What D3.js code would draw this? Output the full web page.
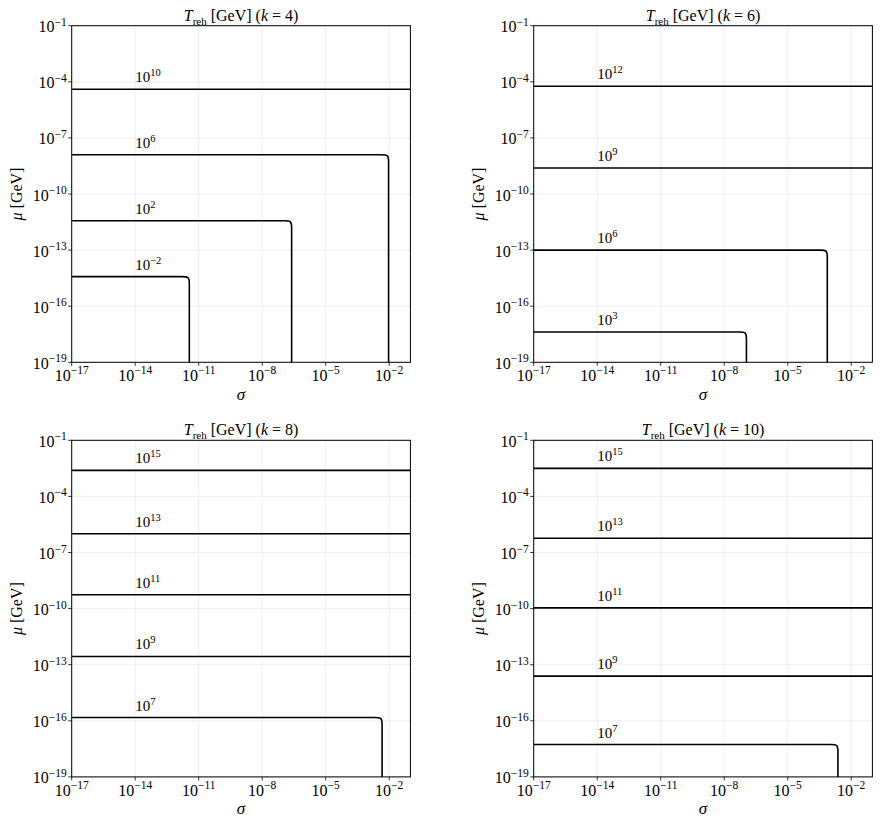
<!DOCTYPE html>
<html><head><meta charset="utf-8">
<script src="https://cdn.jsdelivr.net/npm/d3@7"></script>
<style>
body{margin:0;background:#fff}
svg{display:block}
text{font-family:"Liberation Serif","DejaVu Serif",serif;fill:#000}
</style>
</head><body>
<svg id="chart" width="880" height="822"></svg>
<script>
// ---------- data ----------
const kValues = [4, 6, 8, 10];
const xTickExps = [-17, -14, -11, -8, -5, -2];
const yTickExps = [-1, -4, -7, -10, -13, -16, -19];
const xDomain = [1e-17, 1e-1];
const yDomain = [1e-19, 1e-1];

// k = 4
const k4LabelExps = [10, 6, 2, -2];
const k4Mu = [4.0e-5, 1.26e-8, 3.7e-12, 3.8e-15];
const k4Sigma = [null, 9.3e-3, 2.45e-7, 3.6e-12];
// k = 6
const k6LabelExps = [12, 9, 6, 3];
const k6Mu = [5.75e-5, 2.45e-9, 1.0e-13, 4.2e-18];
const k6Sigma = [null, null, 7.4e-4, 1.12e-7];
// k = 8
const k8LabelExps = [15, 13, 11, 9, 7];
const k8Mu = [2.45e-3, 1.0e-6, 5.5e-10, 2.75e-13, 1.5e-16];
const k8Sigma = [null, null, null, null, 4.6e-3];
// k = 10
const k10LabelExps = [15, 13, 11, 9, 7];
const k10Mu = [3.16e-3, 5.75e-7, 1.1e-10, 2.45e-14, 5.4e-18];
const k10Sigma = [null, null, null, null, 2.35e-3];

const panelData = [
  {k: kValues[0], exps: k4LabelExps, mu: k4Mu, sigma: k4Sigma},
  {k: kValues[1], exps: k6LabelExps, mu: k6Mu, sigma: k6Sigma},
  {k: kValues[2], exps: k8LabelExps, mu: k8Mu, sigma: k8Sigma},
  {k: kValues[3], exps: k10LabelExps, mu: k10Mu, sigma: k10Sigma}
];

// ---------- layout ----------
const panelW = 338.7, panelH = 336.6;
const panelPos = [[71.7, 25.7], [533.7, 25.7], [71.7, 440.3], [533.7, 440.3]];

const svg = d3.select("#chart");
const minus = "\u2212";
function fmtExp(e){ return (e < 0 ? minus : "") + Math.abs(e); }

panelData.forEach((p, i) => {
  const [px, py] = panelPos[i];
  const g = svg.append("g").attr("transform", `translate(${px},${py})`);
  const x = d3.scaleLog().domain(xDomain).range([0, panelW]);
  const y = d3.scaleLog().domain(yDomain).range([panelH, 0]);

  const cid = "clip" + i;
  g.append("clipPath").attr("id", cid).append("rect")
    .attr("width", panelW).attr("height", panelH);

  // grid
  g.append("g").selectAll("line").data(xTickExps).join("line")
    .attr("x1", d => x(Math.pow(10, d))).attr("x2", d => x(Math.pow(10, d)))
    .attr("y1", 0).attr("y2", panelH)
    .attr("stroke", "#ebebeb").attr("stroke-width", 0.8);
  g.append("g").selectAll("line").data(yTickExps).join("line")
    .attr("y1", d => y(Math.pow(10, d))).attr("y2", d => y(Math.pow(10, d)))
    .attr("x1", 0).attr("x2", panelW)
    .attr("stroke", "#ebebeb").attr("stroke-width", 0.8);

  // contours
  const line = d3.line().x(d => x(d[0])).y(d => y(d[1])).curve(d3.curveBasis);
  const f = Math.pow(10, 0.35);
  const curves = p.mu.map((m, j) => {
    const s = p.sigma[j];
    if (s == null) return [[xDomain[0], m], [xDomain[1], m]];
    return [[xDomain[0], m], [s / f / f, m], [s / f, m], [s, m], [s, m / f], [s, m / f / f], [s, yDomain[0]]];
  });
  g.append("g").attr("clip-path", `url(#${cid})`)
    .selectAll("path").data(curves).join("path")
    .attr("d", line).attr("fill", "none")
    .attr("stroke", "#000").attr("stroke-width", 1.6);

  // contour labels
  const lab = g.append("g").selectAll("text").data(p.mu).join("text")
    .attr("x", x(1e-14)).attr("y", d => y(d) - 7)
    .attr("font-size", 15);
  lab.append("tspan").text("10");
  lab.append("tspan").attr("dy", -6).attr("font-size", 10.5)
    .text((d, j) => fmtExp(p.exps[j]));

  // spines
  g.append("rect").attr("width", panelW).attr("height", panelH)
    .attr("fill", "none").attr("stroke", "#000").attr("stroke-width", 1);

  // x ticks
  const xt = g.append("g").selectAll("g").data(xTickExps).join("g")
    .attr("transform", d => `translate(${x(Math.pow(10, d))},${panelH})`);
  xt.append("line").attr("y2", 3.5).attr("stroke", "#000").attr("stroke-width", 0.8);
  const xl = xt.append("text").attr("text-anchor", "middle").attr("y", 18.7).attr("font-size", 16);
  xl.append("tspan").text("10");
  xl.append("tspan").attr("dy", -6.5).attr("font-size", 11.5).text(d => fmtExp(d));

  // y ticks
  const yt = g.append("g").selectAll("g").data(yTickExps).join("g")
    .attr("transform", d => `translate(0,${y(Math.pow(10, d))})`);
  yt.append("line").attr("x2", -3.5).attr("stroke", "#000").attr("stroke-width", 0.8);
  const yl = yt.append("text").attr("text-anchor", "end").attr("x", -5).attr("y", 6.5).attr("font-size", 16);
  yl.append("tspan").text("10");
  yl.append("tspan").attr("dy", -6.5).attr("font-size", 11.5).text(d => fmtExp(d));

  // axis labels
  g.append("text").attr("x", panelW / 2).attr("y", panelH + 37.5)
    .attr("text-anchor", "middle").attr("font-size", 17).attr("font-style", "italic").text("σ");
  const yLab = g.append("text").attr("transform", `translate(-50,${panelH / 2}) rotate(-90)`)
    .attr("text-anchor", "middle").attr("font-size", 16);
  yLab.append("tspan").attr("font-style", "italic").text("μ");
  yLab.append("tspan").text(" [GeV]");

  // title
  const t = g.append("text").attr("x", panelW / 2).attr("y", -5)
    .attr("text-anchor", "middle").attr("font-size", 16);
  t.append("tspan").attr("font-style", "italic").text("T");
  t.append("tspan").attr("dy", 4).attr("font-size", 11).text("reh");
  t.append("tspan").attr("dy", -4).text(" [GeV] (");
  t.append("tspan").attr("font-style", "italic").text("k");
  t.append("tspan").text(" = " + p.k + ")");
});
</script>
</body></html>
